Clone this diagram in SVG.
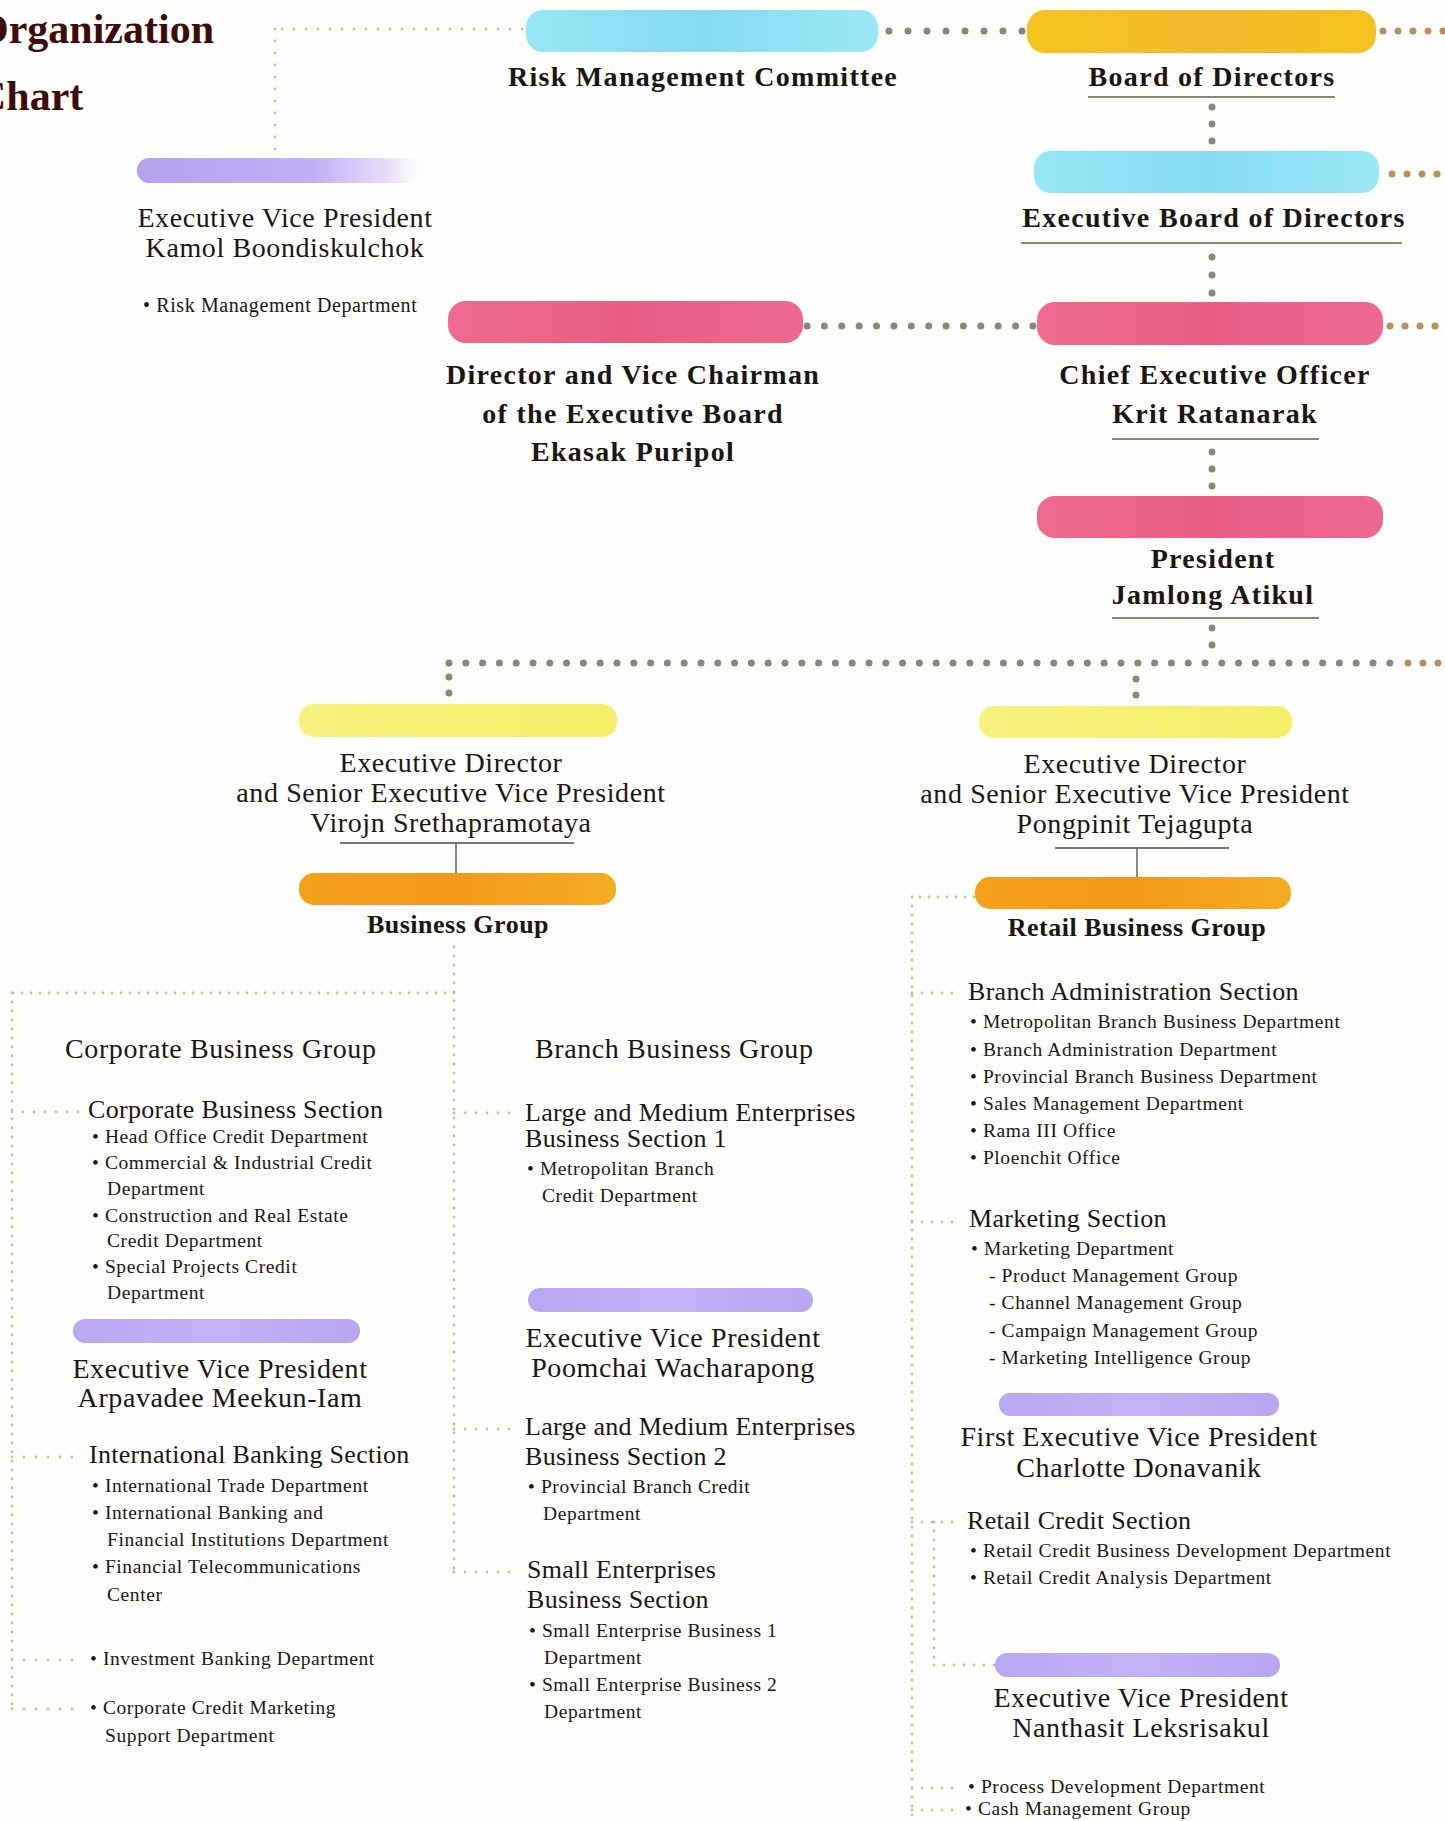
<svg xmlns="http://www.w3.org/2000/svg" width="1445" height="1821" viewBox="0 0 1445 1821">
<defs>
<linearGradient id="gCyan" x1="0" x2="1" y1="0" y2="0"><stop offset="0" stop-color="#96e6f5"/><stop offset="0.5" stop-color="#86dbf0"/><stop offset="1" stop-color="#9ae7f6"/></linearGradient>
<linearGradient id="gGold" x1="0" x2="1"><stop offset="0" stop-color="#f6c51f"/><stop offset="0.5" stop-color="#f1ba2c"/><stop offset="1" stop-color="#f4c21e"/></linearGradient>
<linearGradient id="gPink" x1="0" x2="1"><stop offset="0" stop-color="#ef6b8f"/><stop offset="0.5" stop-color="#e95d85"/><stop offset="1" stop-color="#ed6890"/></linearGradient>
<linearGradient id="gYellow" x1="0" x2="1"><stop offset="0" stop-color="#f7f27e"/><stop offset="1" stop-color="#f5ee68"/></linearGradient>
<linearGradient id="gOrange" x1="0" x2="1"><stop offset="0" stop-color="#f5a01a"/><stop offset="0.5" stop-color="#f29a16"/><stop offset="1" stop-color="#f5ad22"/></linearGradient>
<linearGradient id="gPurple" x1="0" x2="1"><stop offset="0" stop-color="#b9a8f2"/><stop offset="0.5" stop-color="#c2b2f5"/><stop offset="1" stop-color="#b7a6f1"/></linearGradient>
<linearGradient id="gPurpleFade" x1="0" x2="1"><stop offset="0" stop-color="#b3a3f0"/><stop offset="0.6" stop-color="#c0b0f4"/><stop offset="0.85" stop-color="#e6defb"/><stop offset="1" stop-color="#ffffff" stop-opacity="0"/></linearGradient>
<linearGradient id="gUnder" x1="0" x2="1"><stop offset="0" stop-color="#e7c9a0" stop-opacity="0.4"/><stop offset="0.4" stop-color="#d9a975"/><stop offset="1" stop-color="#f0dcb8" stop-opacity="0.2"/></linearGradient>
<linearGradient id="gFaint" x1="0" x2="1"><stop offset="0" stop-color="#f3f0cf" stop-opacity="0.2"/><stop offset="0.5" stop-color="#efe9bd"/><stop offset="1" stop-color="#e8d9b0"/></linearGradient>
<linearGradient id="gGreen" x1="0" x2="1"><stop offset="0" stop-color="#f0efc0" stop-opacity="0.3"/><stop offset="0.3" stop-color="#dcdc94"/><stop offset="1" stop-color="#f4f2d0" stop-opacity="0"/></linearGradient>
<style>
text{font-family:"Liberation Serif","Times New Roman",serif;fill:#1b1612}
.title{font-size:42px;font-weight:bold;fill:#3e0b0b}
.hb{font-size:28px;font-weight:bold;letter-spacing:1.3px;text-anchor:middle}
.hs{font-size:26px;font-weight:bold;letter-spacing:0.5px;text-anchor:middle}
.n{font-size:28px;letter-spacing:0.6px;text-anchor:middle}
.s{font-size:26px;letter-spacing:0.3px}
.b{font-size:19.5px;letter-spacing:0.6px}
.dg{stroke:#8e8575;stroke-width:7;stroke-linecap:round;fill:none}
.dr{stroke:#b8905e;stroke-width:7;stroke-linecap:round;fill:none}
.dt{stroke:#cbbf92;stroke-width:2.8;stroke-linecap:round;fill:none;stroke-dasharray:0 9}
.ul{stroke:#6b5d4f;stroke-width:1.6}
.sl{stroke:#4e4a44;stroke-width:1.3}
</style>
</defs>
<rect width="1445" height="1821" fill="#fefefc"/>

<g id="connectors">
  <!-- gray dotted -->
  <line class="dg" x1="889" y1="31" x2="1023" y2="31" stroke-dasharray="0 19"/>
  <line class="dr" x1="1383" y1="31" x2="1446" y2="31" stroke-dasharray="0 15"/>
  <line class="dg" x1="1212" y1="107" x2="1212" y2="142" stroke-dasharray="0 17"/>
  <line class="dr" x1="1392" y1="174" x2="1446" y2="174" stroke-dasharray="0 15"/>
  <line class="dg" x1="1212" y1="257" x2="1212" y2="294" stroke-dasharray="0 18"/>
  <line class="dg" x1="807" y1="326" x2="1034" y2="326" stroke-dasharray="0 17.38"/>
  <line class="dr" x1="1390" y1="326" x2="1446" y2="326" stroke-dasharray="0 15"/>
  <line class="dg" x1="1212" y1="452" x2="1212" y2="487" stroke-dasharray="0 17"/>
  <line class="dg" x1="1212" y1="628" x2="1212" y2="647" stroke-dasharray="0 17"/>
  <line class="dg" x1="449" y1="663" x2="1401" y2="663" stroke-dasharray="0 16.8"/>
  <line class="dr" x1="1408" y1="663" x2="1446" y2="663" stroke-dasharray="0 15"/>
  <line class="dg" x1="449" y1="677" x2="449" y2="694" stroke-dasharray="0 16"/>
  <line class="dg" x1="1136" y1="679" x2="1136" y2="696" stroke-dasharray="0 16"/>
  <!-- solid short lines -->
  <line class="sl" x1="456" y1="843" x2="456" y2="873"/>
  <line class="sl" x1="1137" y1="848" x2="1137" y2="877"/>
  <!-- tan dotted -->
  <line class="dt" x1="522" y1="29" x2="275" y2="29" style="stroke-dasharray:0 12"/>
  <line class="dt" x1="275" y1="29" x2="275" y2="152" style="stroke-dasharray:0 12"/>
  <line class="dt" x1="454" y1="947" x2="454" y2="1572"/>
  <line class="dt" x1="454" y1="993" x2="12" y2="993"/>
  <line class="dt" x1="12" y1="993" x2="12" y2="1710"/>
  <line class="dt" x1="12" y1="1112" x2="80" y2="1112" style="stroke-dasharray:0 11"/>
  <line class="dt" x1="12" y1="1457" x2="82" y2="1457" style="stroke-dasharray:0 12"/>
  <line class="dt" x1="12" y1="1660" x2="80" y2="1660" style="stroke-dasharray:0 12"/>
  <line class="dt" x1="12" y1="1709" x2="80" y2="1709" style="stroke-dasharray:0 12"/>
  <line class="dt" x1="454" y1="1113" x2="512" y2="1113" style="stroke-dasharray:0 11"/>
  <line class="dt" x1="454" y1="1429" x2="512" y2="1429" style="stroke-dasharray:0 11"/>
  <line class="dt" x1="454" y1="1572" x2="512" y2="1572" style="stroke-dasharray:0 11"/>
  <line class="dt" x1="974" y1="897" x2="912" y2="897"/>
  <line class="dt" x1="912" y1="897" x2="912" y2="1821"/>
  <line class="dt" x1="912" y1="993" x2="957" y2="993" style="stroke-dasharray:0 10"/>
  <line class="dt" x1="912" y1="1222" x2="957" y2="1222" style="stroke-dasharray:0 10"/>
  <line class="dt" x1="912" y1="1522" x2="957" y2="1522" style="stroke-dasharray:0 10"/>
  <line class="dt" x1="934" y1="1522" x2="934" y2="1665"/>
  <line class="dt" x1="934" y1="1665" x2="995" y2="1665" style="stroke-dasharray:0 10"/>
  <line class="dt" x1="912" y1="1788" x2="960" y2="1788" style="stroke-dasharray:0 10"/>
  <line class="dt" x1="912" y1="1810" x2="958" y2="1810" style="stroke-dasharray:0 10"/>
</g>

<g id="title">
  <text class="title" x="-24" y="43">Organization</text>
  <text class="title" x="-24" y="110">Chart</text>
</g>

<g id="risk-committee">
  <rect x="526" y="10" width="352" height="42" rx="17" fill="url(#gCyan)"/>
  <text class="hb" x="703" y="86">Risk Management Committee</text>
</g>

<g id="board">
  <rect x="1027" y="10" width="349" height="43" rx="18" fill="url(#gGold)"/>
  <text class="hb" x="1212" y="86">Board of Directors</text>
  <line class="ul" x1="1088" y1="97" x2="1335" y2="97"/>
</g>

<g id="exec-board">
  <rect x="1034" y="151" width="345" height="42" rx="17" fill="url(#gCyan)"/>
  <text class="hb" x="1214" y="227">Executive Board of Directors</text>
  <line class="ul" x1="1021" y1="243" x2="1402" y2="243"/>
</g>

<g id="vice-chairman">
  <rect x="448" y="301" width="355" height="42" rx="18" fill="url(#gPink)"/>
  <text class="hb" x="633" y="384">Director and Vice Chairman</text>
  <text class="hb" x="633" y="423">of the Executive Board</text>
  <text class="hb" x="633" y="461">Ekasak Puripol</text>
</g>

<g id="ceo">
  <rect x="1037" y="302" width="346" height="43" rx="18" fill="url(#gPink)"/>
  <text class="hb" x="1215" y="384">Chief Executive Officer</text>
  <text class="hb" x="1215" y="423">Krit Ratanarak</text>
  <line class="ul" x1="1112" y1="439" x2="1319" y2="439"/>
</g>

<g id="president">
  <rect x="1037" y="496" width="346" height="42" rx="18" fill="url(#gPink)"/>
  <text class="hb" x="1213" y="568">President</text>
  <text class="hb" x="1213" y="604">Jamlong Atikul</text>
  <line class="ul" x1="1112" y1="618" x2="1319" y2="618"/>
</g>

<g id="kamol">
  <rect x="137" y="158" width="295" height="25" rx="12" fill="url(#gPurpleFade)"/>
  <text class="n" x="285" y="227">Executive Vice President</text>
  <text class="n" x="285" y="257">Kamol Boondiskulchok</text>
  <line x1="133" y1="277" x2="330" y2="277" stroke="url(#gGreen)" stroke-width="3"/>
  <text class="b" x="143" y="312" style="font-size:20px">• Risk Management Department</text>
</g>

<g id="virojn">
  <rect x="299" y="704" width="318" height="33" rx="15" fill="url(#gYellow)"/>
  <text class="n" x="451" y="772">Executive Director</text>
  <text class="n" x="451" y="802">and Senior Executive Vice President</text>
  <text class="n" x="451" y="832">Virojn Srethapramotaya</text>
  <line class="sl" x1="340" y1="843" x2="574" y2="843"/>
</g>

<g id="business-group">
  <rect x="299" y="873" width="317" height="32" rx="15" fill="url(#gOrange)"/>
  <text class="hs" x="458" y="933">Business Group</text>
</g>

<g id="pongpinit">
  <rect x="979" y="706" width="313" height="32" rx="15" fill="url(#gYellow)"/>
  <text class="n" x="1135" y="773">Executive Director</text>
  <text class="n" x="1135" y="803">and Senior Executive Vice President</text>
  <text class="n" x="1135" y="833">Pongpinit Tejagupta</text>
  <line class="sl" x1="1055" y1="848" x2="1229" y2="848"/>
</g>

<g id="retail-group">
  <rect x="975" y="877" width="316" height="32" rx="15" fill="url(#gOrange)"/>
  <text class="hs" x="1137" y="936">Retail Business Group</text>
</g>

<g id="corporate-group">
  <text class="n" x="65" y="1058" style="text-anchor:start">Corporate Business Group</text>
</g>

<g id="corporate-section">
  <text class="s" x="88" y="1118">Corporate Business Section</text>
  <text class="b" x="92" y="1143">• Head Office Credit Department</text>
  <text class="b" x="92" y="1169">• Commercial &amp; Industrial Credit</text>
  <text class="b" x="107" y="1195">Department</text>
  <text class="b" x="92" y="1222">• Construction and Real Estate</text>
  <text class="b" x="107" y="1247">Credit Department</text>
  <text class="b" x="92" y="1273">• Special Projects Credit</text>
  <text class="b" x="107" y="1299">Department</text>
</g>

<g id="arpavadee">
  <rect x="73" y="1319" width="287" height="24" rx="12" fill="url(#gPurple)"/>
  <text class="n" x="220" y="1378">Executive Vice President</text>
  <text class="n" x="220" y="1407">Arpavadee Meekun-Iam</text>
  <line x1="75" y1="1430" x2="368" y2="1430" stroke="url(#gUnder)" stroke-width="3"/>
</g>

<g id="intl-banking">
  <text class="s" x="89" y="1463">International Banking Section</text>
  <text class="b" x="92" y="1492">• International Trade Department</text>
  <text class="b" x="92" y="1519">• International Banking and</text>
  <text class="b" x="107" y="1546">Financial Institutions Department</text>
  <text class="b" x="92" y="1573">• Financial Telecommunications</text>
  <text class="b" x="107" y="1601">Center</text>
  <line x1="110" y1="1628" x2="372" y2="1628" stroke="url(#gFaint)" stroke-width="2.5"/>
</g>

<g id="investment-banking">
  <text class="b" x="90" y="1665">• Investment Banking Department</text>
</g>

<g id="corp-credit-marketing">
  <text class="b" x="90" y="1714">• Corporate Credit Marketing</text>
  <text class="b" x="105" y="1742">Support Department</text>
</g>

<g id="branch-group">
  <text class="n" x="535" y="1058" style="text-anchor:start">Branch Business Group</text>
</g>

<g id="lme1">
  <text class="s" x="525" y="1121">Large and Medium Enterprises</text>
  <text class="s" x="525" y="1147">Business Section 1</text>
  <text class="b" x="527" y="1175">• Metropolitan Branch</text>
  <text class="b" x="542" y="1202">Credit Department</text>
</g>

<g id="poomchai">
  <rect x="528" y="1288" width="285" height="24" rx="12" fill="url(#gPurple)"/>
  <text class="n" x="673" y="1347">Executive Vice President</text>
  <text class="n" x="673" y="1377">Poomchai Wacharapong</text>
  <line x1="527" y1="1395" x2="823" y2="1395" stroke="url(#gUnder)" stroke-width="3"/>
</g>

<g id="lme2">
  <text class="s" x="525" y="1435">Large and Medium Enterprises</text>
  <text class="s" x="525" y="1465">Business Section 2</text>
  <text class="b" x="528" y="1493">• Provincial Branch Credit</text>
  <text class="b" x="543" y="1520">Department</text>
  <line x1="525" y1="1543" x2="820" y2="1543" stroke="url(#gUnder)" stroke-width="3"/>
</g>

<g id="small-enterprises">
  <text class="s" x="527" y="1578">Small Enterprises</text>
  <text class="s" x="527" y="1608">Business Section</text>
  <text class="b" x="529" y="1637">• Small Enterprise Business 1</text>
  <text class="b" x="544" y="1664">Department</text>
  <text class="b" x="529" y="1691">• Small Enterprise Business 2</text>
  <text class="b" x="544" y="1718">Department</text>
</g>

<g id="branch-admin">
  <text class="s" x="968" y="1000">Branch Administration Section</text>
  <text class="b" x="970" y="1028">• Metropolitan Branch Business Department</text>
  <text class="b" x="970" y="1056">• Branch Administration Department</text>
  <text class="b" x="970" y="1083">• Provincial Branch Business Department</text>
  <text class="b" x="970" y="1110">• Sales Management Department</text>
  <text class="b" x="970" y="1137">• Rama III Office</text>
  <text class="b" x="970" y="1164">• Ploenchit Office</text>
  <line x1="1022" y1="1190" x2="1255" y2="1190" stroke="url(#gFaint)" stroke-width="2.5" opacity="0.6"/>
</g>

<g id="marketing">
  <text class="s" x="969" y="1227">Marketing Section</text>
  <text class="b" x="971" y="1255">• Marketing Department</text>
  <text class="b" x="989" y="1282">- Product Management Group</text>
  <text class="b" x="989" y="1309">- Channel Management Group</text>
  <text class="b" x="989" y="1337">- Campaign Management Group</text>
  <text class="b" x="989" y="1364">- Marketing Intelligence Group</text>
</g>

<g id="charlotte">
  <rect x="999" y="1393" width="280" height="23" rx="11" fill="url(#gPurple)"/>
  <text class="n" x="1139" y="1446">First Executive Vice President</text>
  <text class="n" x="1139" y="1477">Charlotte Donavanik</text>
  <line x1="986" y1="1493" x2="1280" y2="1493" stroke="url(#gUnder)" stroke-width="3"/>
</g>

<g id="retail-credit">
  <text class="s" x="967" y="1529">Retail Credit Section</text>
  <text class="b" x="970" y="1557">• Retail Credit Business Development Department</text>
  <text class="b" x="970" y="1584">• Retail Credit Analysis Department</text>
</g>

<g id="nanthasit">
  <rect x="995" y="1653" width="285" height="24" rx="12" fill="url(#gPurple)"/>
  <text class="n" x="1141" y="1707">Executive Vice President</text>
  <text class="n" x="1141" y="1737">Nanthasit Leksrisakul</text>
  <line x1="986" y1="1760" x2="1282" y2="1760" stroke="url(#gUnder)" stroke-width="3"/>
</g>

<g id="process-dev">
  <text class="b" x="968" y="1793">• Process Development Department</text>
</g>

<g id="cash-mgmt">
  <text class="b" x="965" y="1815">• Cash Management Group</text>
</g>
</svg>
